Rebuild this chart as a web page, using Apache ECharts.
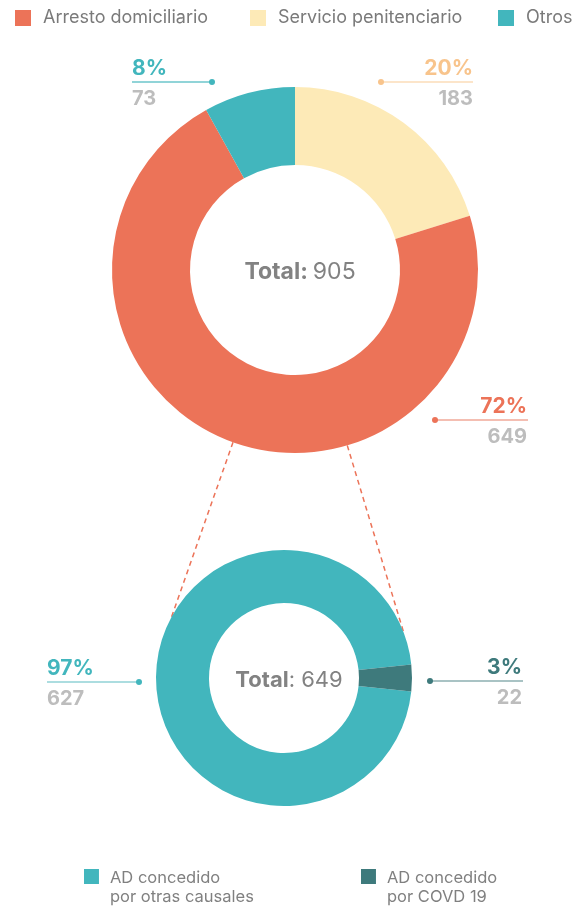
<!DOCTYPE html>
<html>
<head>
<meta charset="utf-8">
<title>Arresto domiciliario</title>
<script src="https://cdn.jsdelivr.net/npm/echarts@6/dist/echarts.min.js"></script>
<style>
html, body { margin: 0; padding: 0; background: #fff; }
#main { width: 578px; height: 907px; }
</style>
</head>
<body>
<div id="main"></div>
<script>
// datos
var topLegend = ['Arresto domiciliario', 'Servicio penitenciario', 'Otros'];
var topNames = ['Servicio penitenciario', 'Arresto domiciliario', 'Otros']; // orden en el anillo
var topValues = [183, 649, 73];
var bottomNames = ['AD concedido por otras causales', 'AD concedido por COVD 19'];
var bottomValues = [627, 22];

var topColors = ['#FDEAB7', '#EC7358', '#42B6BD'];
var bottomColors = ['#42B6BD', '#3E7A7C'];
var FONT = 'Inter';

var topCenter = [295, 270], topR = [105, 183];
var botCenter = [284, 678], botR = [75, 128];

// posicion de etiquetas
var topLabelPos = [
	{ align: 'right', tx: 473, ly: 82, x1: 381, x2: 473, dot: 381, pc: '#F8C48C', lc: '#FBDDB9' },
	{ align: 'right', tx: 527, ly: 420, x1: 435, x2: 528, dot: 435, pc: '#EC7358', lc: '#F1A898' },
	{ align: 'left', tx: 132, ly: 82, x1: 132, x2: 212, dot: 212, pc: '#42B6BD', lc: '#6CC6CB' }
];
var botLabelPos = [
	{ align: 'left', tx: 47, ly: 682, x1: 47, x2: 139, dot: 139, pc: '#42B6BD', lc: '#90D2D6' },
	{ align: 'right', tx: 522, ly: 681, x1: 430, x2: 523, dot: 430, pc: '#3E7A7C', lc: '#8CAFB0' }
];

function sum(arr) {
	var s = 0;
	for (var i = 0; i < arr.length; i++) s += arr[i];
	return s;
}
var topTotal = sum(topValues);
var botTotal = sum(bottomValues);

function buildData(names, values, colors, pos) {
	var out = [];
	for (var i = 0; i < names.length; i++) {
		out.push({
			name: names[i],
			value: values[i],
			itemStyle: { color: colors[i] },
			label: { color: pos[i].pc },
			labelLine: { lineStyle: { color: pos[i].lc } }
		});
	}
	return out;
}

function layoutFor(pos) {
	return function(params) {
		var s = pos[params.dataIndex];
		return {
			x: s.tx,
			y: s.ly + 1.5,
			align: s.align,
			verticalAlign: 'middle',
			labelLinePoints: [[s.x1, s.ly], [(s.x1 + s.x2) / 2, s.ly], [s.x2, s.ly]]
		};
	};
}

function labelFor(total) {
	return {
		show: true,
		position: 'outside',
		fontFamily: FONT,
		formatter: function(p) {
			return '{p|' + Math.round(p.value / total * 100) + '%}\n{v|' + p.value + '}';
		},
		rich: {
			p: { fontFamily: FONT, fontSize: 21, fontWeight: 'bold', lineHeight: 30 },
			v: { fontFamily: FONT, fontSize: 20, fontWeight: 'bold', lineHeight: 30, color: '#BDBDBD' }
		}
	};
}

function onCircle(c, r, deg) {
	var a = deg * Math.PI / 180;
	return [c[0] + r * Math.cos(a), c[1] + r * Math.sin(a)];
}

// lineas punteadas entre anillos
var graphics = [];
var links = [[109.8, -151.4], [73.4, -20.7]];
for (var k = 0; k < links.length; k++) {
	var p1 = onCircle(topCenter, topR[1], links[k][0]);
	var p2 = onCircle(botCenter, botR[1], links[k][1]);
	graphics.push({
		type: 'line', z: -1,
		shape: { x1: p1[0], y1: p1[1], x2: p2[0], y2: p2[1] },
		style: { stroke: '#EC7358', lineWidth: 1.5, lineDash: [5, 4] }
	});
}
// puntos de las lineas de etiqueta
var allPos = topLabelPos.concat(botLabelPos);
for (var j = 0; j < allPos.length; j++) {
	graphics.push({
		type: 'circle', z: 10,
		shape: { cx: allPos[j].dot, cy: allPos[j].ly, r: 3 },
		style: { fill: allPos[j].pc }
	});
}

var legendText = { color: '#7A7A7A', fontSize: 18, fontFamily: FONT, padding: [0, 0, 0, 7] };
var legendTextBot = { color: '#808080', fontSize: 16.5, fontFamily: FONT, lineHeight: 19, padding: [0, 0, 0, 6] };
var tallSquare = 'path://M0,0H15V15H0Z M0,38H0.1V38.1H0Z';

var chart = echarts.init(document.getElementById('main'));
var option = {
	backgroundColor: '#fff',
	animation: false,
	title: [{
		text: '{b|Total:} {n|' + topTotal + '}',
		left: topCenter[0], top: topCenter[1] - 3,
		textAlign: 'center', textVerticalAlign: 'middle',
		textStyle: {
			rich: {
				b: { fontFamily: FONT, fontSize: 23, fontWeight: 'bold', color: '#828282' },
				n: { fontFamily: FONT, fontSize: 23, fontWeight: 'normal', color: '#828282' }
			}
		}
	}, {
		text: '{b|Total}{n|: ' + botTotal + '}',
		left: botCenter[0], top: botCenter[1] - 3,
		textAlign: 'center', textVerticalAlign: 'middle',
		textStyle: {
			rich: {
				b: { fontFamily: FONT, fontSize: 22, fontWeight: 'bold', color: '#828282' },
				n: { fontFamily: FONT, fontSize: 22, fontWeight: 'normal', color: '#828282' }
			}
		}
	}],
	legend: [
		{ data: [topLegend[0]], left: 15, top: 9, padding: 0, itemWidth: 16, itemHeight: 16, icon: 'rect', textStyle: legendText },
		{ data: [topLegend[1]], left: 250, top: 9, padding: 0, itemWidth: 16, itemHeight: 16, icon: 'rect', textStyle: legendText },
		{ data: [topLegend[2]], left: 498, top: 9, padding: 0, itemWidth: 16, itemHeight: 16, icon: 'rect', textStyle: legendText },
		{
			data: [bottomNames[0]], left: 84, top: 869, padding: 0, itemWidth: 15, itemHeight: 38, icon: tallSquare,
			textStyle: legendTextBot, formatter: function() { return 'AD concedido\npor otras causales'; }
		},
		{
			data: [bottomNames[1]], left: 361, top: 869, padding: 0, itemWidth: 15, itemHeight: 38, icon: tallSquare,
			textStyle: legendTextBot, formatter: function() { return 'AD concedido\npor COVD 19'; }
		}
	],
	graphic: graphics,
	series: [{
		name: 'Total',
		type: 'pie',
		center: topCenter,
		radius: topR,
		startAngle: 90,
		clockwise: true,
		avoidLabelOverlap: false,
		emphasis: { scale: false },
		itemStyle: { borderWidth: 0 },
		label: labelFor(topTotal),
		labelLine: { show: true, lineStyle: { width: 1.5 } },
		labelLayout: layoutFor(topLabelPos),
		data: buildData(topNames, topValues, topColors, topLabelPos)
	}, {
		name: 'AD',
		type: 'pie',
		center: botCenter,
		radius: botR,
		startAngle: 360 - (bottomValues[1] / botTotal * 360) / 2,
		clockwise: true,
		avoidLabelOverlap: false,
		emphasis: { scale: false },
		itemStyle: { borderWidth: 0 },
		label: labelFor(botTotal),
		labelLine: { show: true, lineStyle: { width: 1.5 } },
		labelLayout: layoutFor(botLabelPos),
		data: buildData(bottomNames, bottomValues, bottomColors, botLabelPos)
	}]
};
chart.setOption(option);
</script>
</body>
</html>
